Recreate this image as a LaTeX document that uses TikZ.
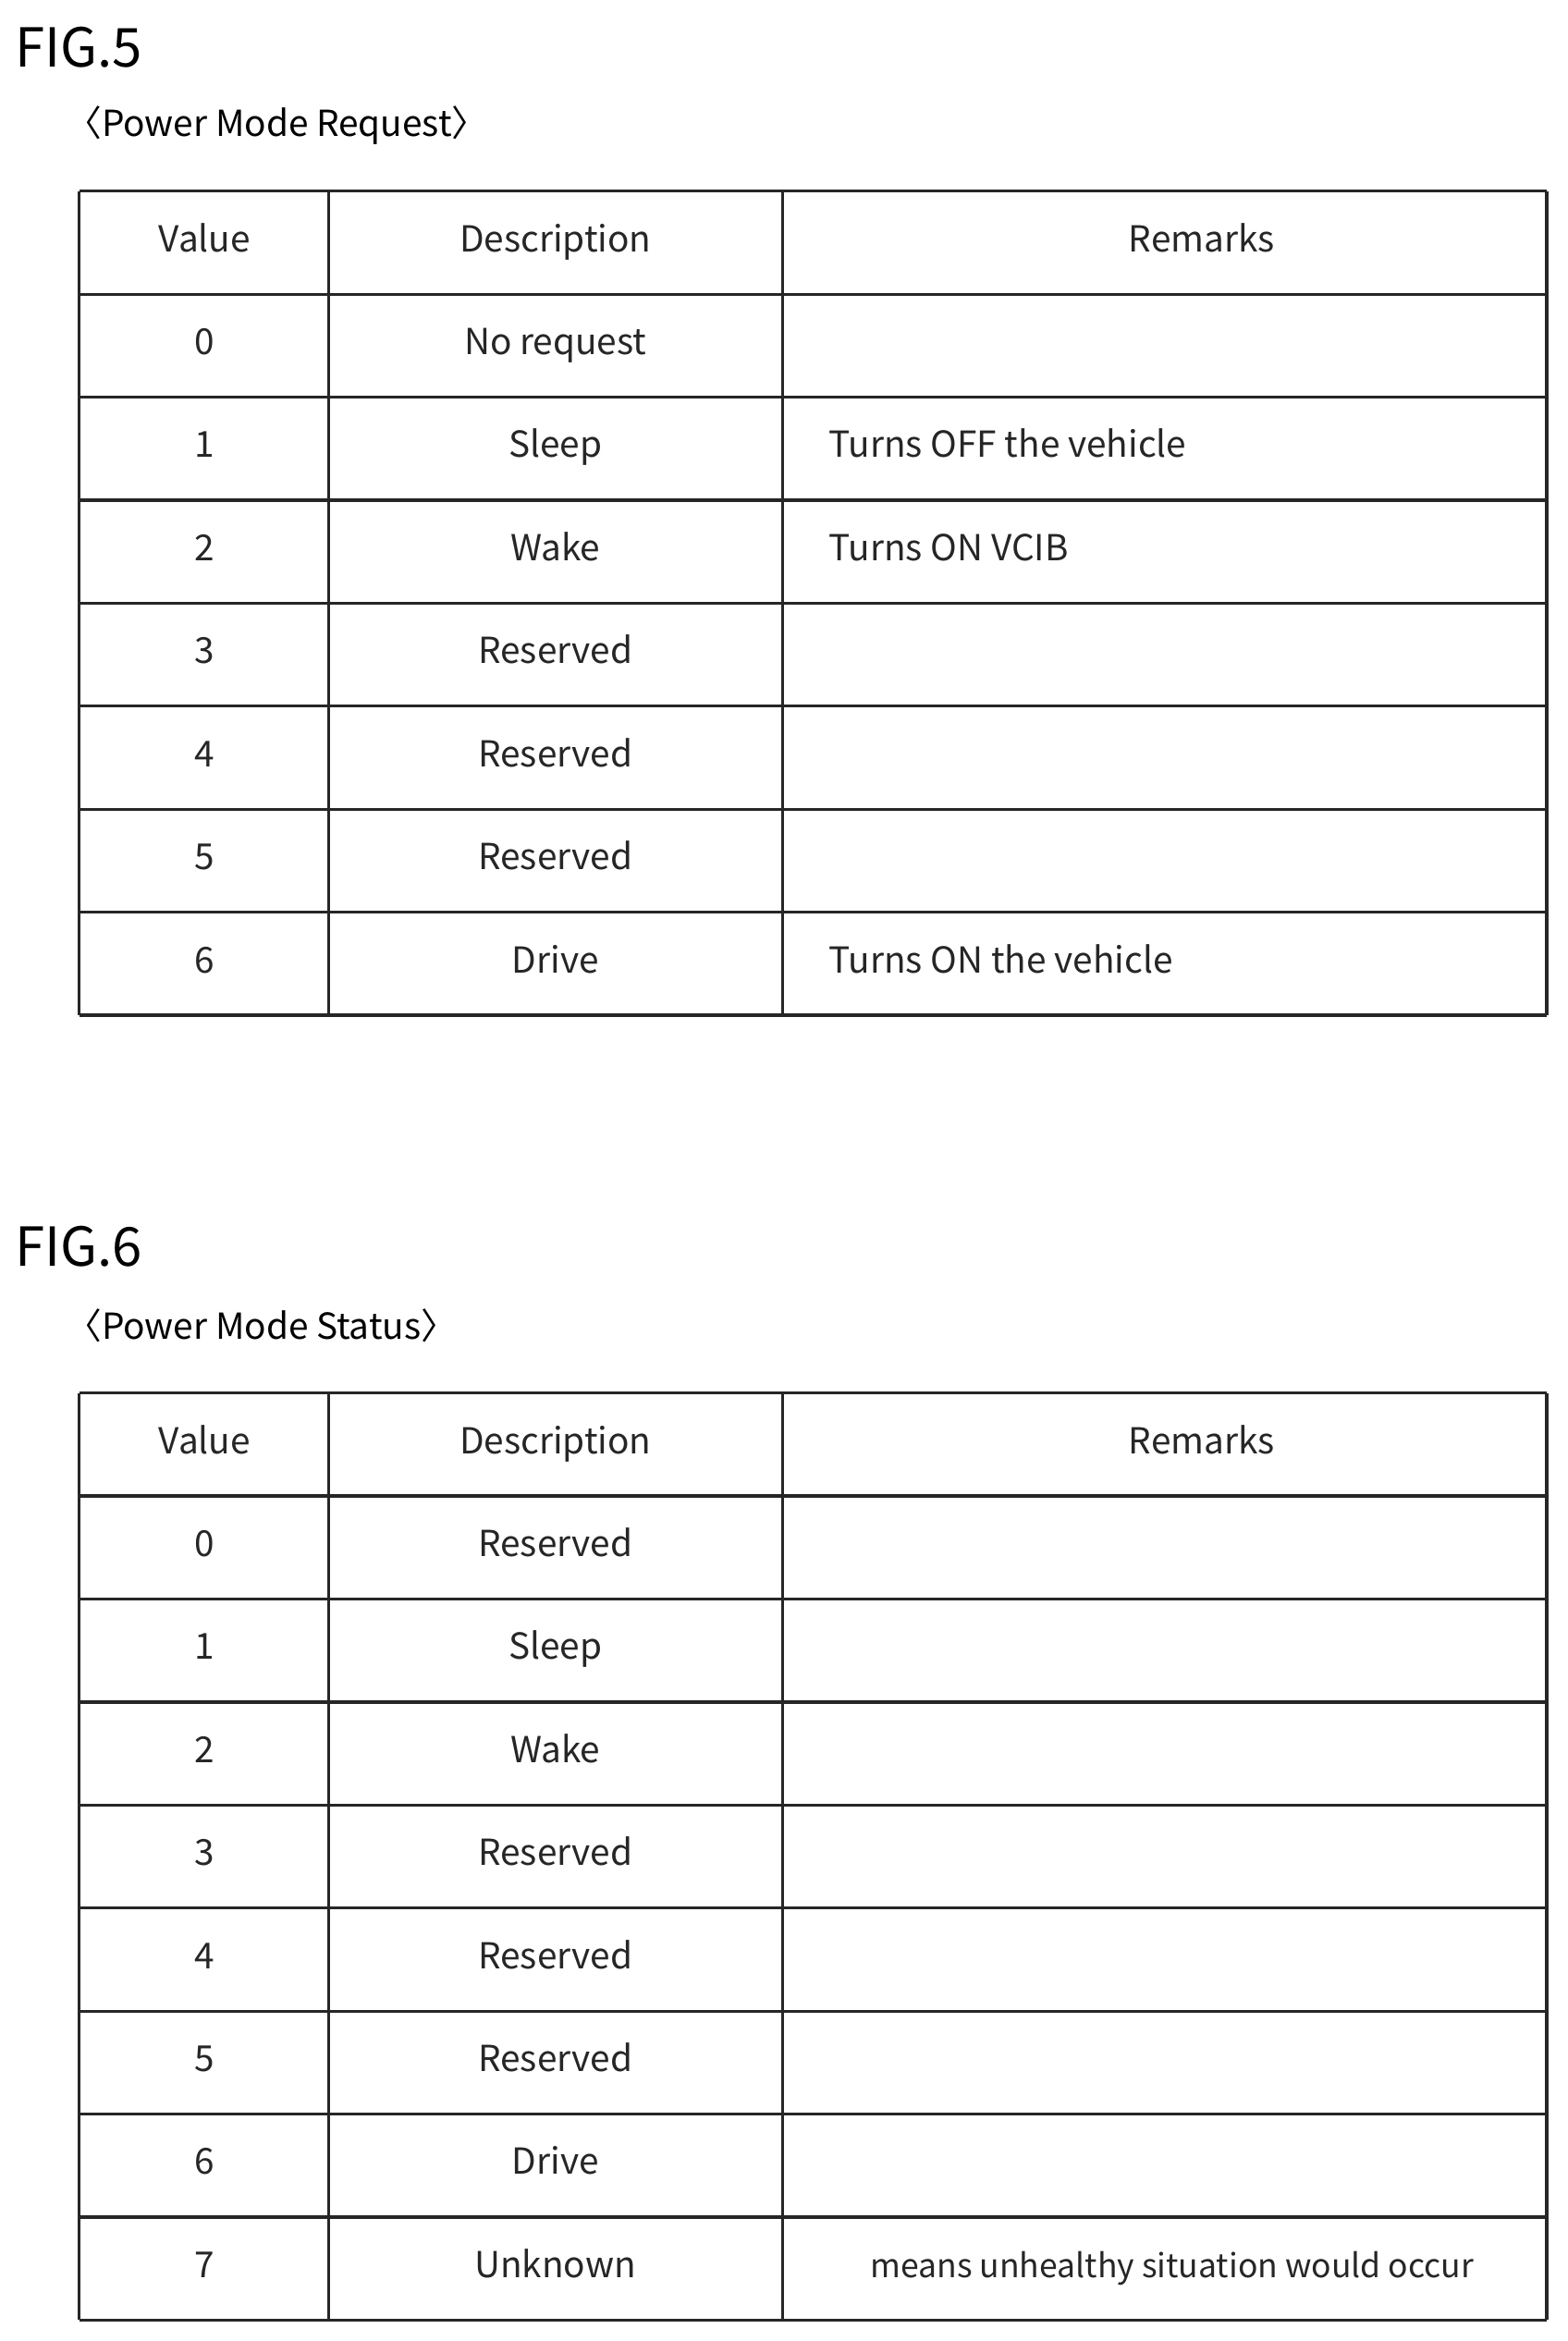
\documentclass[tikz,border=0pt]{standalone}
\usepackage{fontspec}
\setmainfont{Noto Sans CJK JP}
\begin{document}
\begin{tikzpicture}[x=1pt,y=-1pt,
  grid/.style={draw=black!85,line width=2pt},
  cell/.style={font=\fontsize{24}{28}\selectfont,text=black!85,inner sep=0pt,text height=17pt,text depth=5pt},
  figlbl/.style={font=\fontsize{36}{40}\selectfont,anchor=west,inner sep=0pt},
  captxt/.style={font=\fontsize{24}{28}\selectfont,anchor=west,inner sep=0pt}]
\useasboundingbox (0,0) rectangle (1050,1568);
% FIG.5
\node[figlbl] (f5) at (10,32) {FIG.5};
\node[captxt] (c5) at (44,84) {〈Power Mode Request〉};
\foreach \y in {128,197,266,335,404,473,542,611,680} \draw[grid] (53,\y) -- (1036,\y);
\foreach \x in {53,220,524,1036} \draw[grid] (\x,128) -- (\x,680);
\foreach \v/\d/\r [count=\i from 0] in {Value/Description/Remarks,0/No request/,1/Sleep/Turns OFF the vehicle,2/Wake/Turns ON VCIB,3/Reserved/,4/Reserved/,5/Reserved/,6/Drive/Turns ON the vehicle}{
  \node[cell] (a\i) at (137,{162.5+69*\i}) {\v};
  \node[cell] (b\i) at (372,{162.5+69*\i}) {\d};
  \ifnum\i=0 \node[cell] (r\i) at (805,162.5) {\r};
  \else \node[cell,anchor=west] (r\i) at (555,{162.5+69*\i}) {\r}; \fi
}
% FIG.6
\node[figlbl] (f6) at (10,835) {FIG.6};
\node[captxt] (c6) at (44,888) {〈Power Mode Status〉};
\foreach \y in {933,1002,1071,1140,1209,1278,1347,1416,1485,1554} \draw[grid] (53,\y) -- (1036,\y);
\foreach \x in {53,220,524,1036} \draw[grid] (\x,933) -- (\x,1554);
\foreach \v/\d [count=\i from 0] in {Value/Description,0/Reserved,1/Sleep,2/Wake,3/Reserved,4/Reserved,5/Reserved,6/Drive,7/Unknown}{
  \node[cell] (p\i) at (137,{967.5+69*\i}) {\v};
  \node[cell] (q\i) at (372,{967.5+69*\i}) {\d};
}
\node[cell] (s0) at (805,967.5) {Remarks};
\node[cell,font=\fontsize{22}{26}\selectfont] (s8) at (785,1519.5) {means unhealthy situation would occur};
\end{tikzpicture}
\end{document}
